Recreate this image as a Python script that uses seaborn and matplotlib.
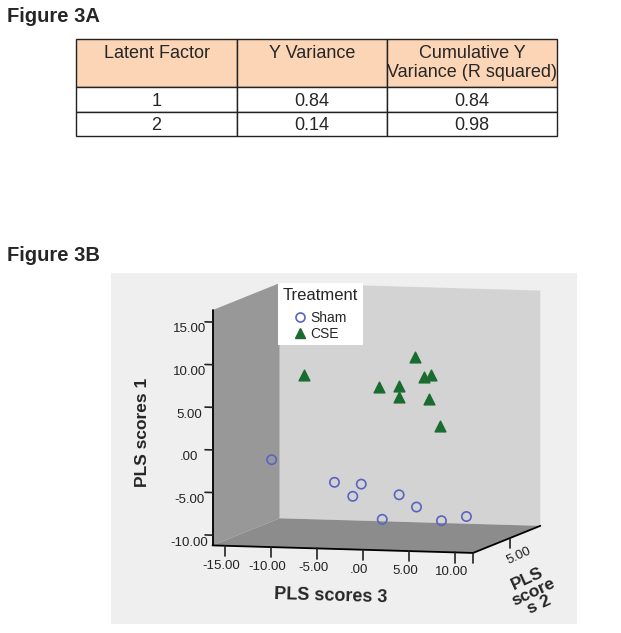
import matplotlib
matplotlib.use('Agg')
import matplotlib.pyplot as plt
import seaborn as sns
from matplotlib.patches import Rectangle
from matplotlib.lines import Line2D
from matplotlib.ticker import FuncFormatter

# Figura 3A (tabla) + Figura 3B (dispersión 3D de puntuaciones PLS)
sns.set_style('white')
plt.rcParams['font.family'] = ['Liberation Sans', 'DejaVu Sans']

# --- Datos de la tabla ---
encabezados = ['Latent Factor\n ', 'Y Variance\n ', 'Cumulative Y\nVariance (R squared)']
factor_latente = ['1', '2']
varianza_y = ['0.84', '0.14']
varianza_acum = ['0.84', '0.98']

# --- Datos del gráfico 3D ---
# s3 = PLS scores 3 (eje x), s2 = PLS scores 2 (profundidad), s1 = PLS scores 1 (vertical)
sham_s3 = [-11.5, -6.3, -4.2, -3.5, -0.9, 1.8, -0.3, 3.7, 5.6]
sham_s2 = [2, 4, 5, 3, 6, 5, 3, 6, 7]
sham_s1 = [-1.7, -4.9, -5.4, -6.1, -6.9, -7.9, -8.7, -9.8, -9.6]

cse_s3 = [-8.75, 0.8, -1.5, -0.14, -0.14, 1.77, 1.7, 3.18, 5.15]
cse_s2 = [3, 6, 4, 5, 5, 6, 7, 5, 4]
cse_s1 = [8.0, 9.35, 6.4, 6.24, 5.0, 7.0, 6.9, 4.85, 2.1]

color_sham = '#5a64c0'
color_cse = '#1a6b2f'

W, H = 621, 633
fig = plt.figure(figsize=(W / 100, H / 100), dpi=100)


def caja(x0, y0, x1, y1):
    # coordenadas en pixeles (origen arriba-izquierda) -> fracción de figura
    return [x0 / W, 1 - y1 / H, (x1 - x0) / W, (y1 - y0) / H]


def formato_spss(v, pos):
    # SPSS escribe el cero como ".00"
    if abs(v) < 1e-9:
        return '.00'
    return '%.2f' % v


# ---------- Figura 3A ----------
fig.text(7 / W, 1 - 16 / H, 'Figure 3A', fontsize=14.5, fontweight='bold', va='center')

ax_t = fig.add_axes(caja(76, 39, 557, 136))
ax_t.axis('off')
celdas = [encabezados] + [[f, v, c] for f, v, c in zip(factor_latente, varianza_y, varianza_acum)]
tabla = ax_t.table(cellText=celdas, cellLoc='center', bbox=[0, 0, 1, 1],
                   colWidths=[161, 150, 170])
tabla.auto_set_font_size(False)
alturas = [48, 25, 24]
for (r, c), celda in tabla.get_celld().items():
    celda.set_height(alturas[r])
    celda.set_edgecolor('#222222')
    celda.set_linewidth(1.0)
    celda.get_text().set_fontsize(13)
    celda.get_text().set_linespacing(1.15)
    if r == 0:
        celda.set_facecolor('#fbd5b5')
    else:
        celda.get_text().set_va('center_baseline')

# ---------- Figura 3B ----------
fig.text(7 / W, 1 - 255 / H, 'Figure 3B', fontsize=14.5, fontweight='bold', va='center')
fig.patches.append(Rectangle((111 / W, 1 - 624 / H), 466 / W, 351 / H,
                             transform=fig.transFigure, facecolor='#efefef',
                             edgecolor='none', zorder=-5))

lado = 430
cx, cy = 370.6, 423.8
ax = fig.add_axes(caja(cx - lado / 2, cy - lado / 2, cx + lado / 2, cy + lado / 2),
                  projection='3d', proj_type='ortho')
ax.set_facecolor('none')
ax.set_box_aspect((269, 259, 236))
ax.view_init(elev=6.2, azim=-75)

ax.scatter(sham_s3, sham_s2, sham_s1, marker='o', s=45, facecolors='none',
           edgecolors=color_sham, linewidths=1.2, depthshade=False)
ax.scatter(cse_s3, cse_s2, cse_s1, marker='^', s=60, color=color_cse,
           depthshade=False)

ax.set_xlim(-16.3, 12.0, view_margin=0)
ax.set_ylim(0, 9, view_margin=0)
ax.set_zlim(-11.2, 16.4, view_margin=0)
ax.set_xticks([-15, -10, -5, 0, 5, 10])
ax.set_zticks([-10, -5, 0, 5, 10, 15])
ax.set_yticks([0, 5], labels=['', '5.00'])

ax.xaxis.set_major_formatter(FuncFormatter(formato_spss))
ax.zaxis.set_major_formatter(FuncFormatter(formato_spss))

ax.grid(False)
ax.xaxis.set_pane_color('#989898')
ax.yaxis.set_pane_color('#d3d3d3')
ax.zaxis.set_pane_color('#8c8c8c')
largo_marca = {ax.xaxis: 0.55, ax.yaxis: 0.55, ax.zaxis: 0.36}
for eje, largo in largo_marca.items():
    eje.pane.set_edgecolor('none')
    eje.line.set_color('black')
    eje.line.set_linewidth(1.3)
    eje._axinfo['tick']['inward_factor'] = 0.0
    eje._axinfo['tick']['outward_factor'] = largo
    eje._axinfo['tick']['linewidth'] = {True: 1.2, False: 0.6}
ax.zaxis.set_ticks_position('lower')
ax.zaxis.set_label_position('lower')
# marcas como en SPSS: x y profundidad hacia abajo, vertical hacia la izquierda
ax.xaxis._get_tickdir = lambda position: 2
ax.yaxis._get_tickdir = lambda position: 2
ax.zaxis._get_tickdir = lambda position: 0

ax.tick_params(labelsize=9.5, colors='#222222')
ax.tick_params(axis='x', pad=0.5)
ax.tick_params(axis='y', pad=-3)
for t in ax.get_yticklabels():
    t.set_rotation(25)

ax.set_xlabel('PLS scores 3', fontsize=13, fontweight='bold', labelpad=8)
ax.set_zlabel('PLS scores 1', fontsize=12.5, fontweight='bold', labelpad=13.5)
# etiqueta de profundidad partida como en el original de SPSS
fig.text(533 / W, 1 - 592 / H, 'PLS\nscore\ns 2', fontsize=12.5, fontweight='bold',
         rotation=25, ha='center', va='center', multialignment='center',
         linespacing=0.95, rotation_mode='anchor')

marcadores = [
    Line2D([], [], marker='o', ls='none', markersize=6.5, markerfacecolor='none',
           markeredgecolor=color_sham, markeredgewidth=1.2, label='Sham'),
    Line2D([], [], marker='^', ls='none', markersize=7.5, color=color_cse, label='CSE'),
]
leg = fig.legend(handles=marcadores, title='Treatment', loc='upper left',
                 bbox_to_anchor=(278 / W, 1 - 283 / H), borderaxespad=0,
                 fontsize=10, title_fontsize=12, frameon=True, fancybox=False,
                 facecolor='white', edgecolor='none', framealpha=1,
                 alignment='left', handlelength=2.5, handletextpad=-0.55,
                 borderpad=0.35, labelspacing=0.1)
leg._legend_box.sep = 6

fig.savefig('out.png', dpi=100)
